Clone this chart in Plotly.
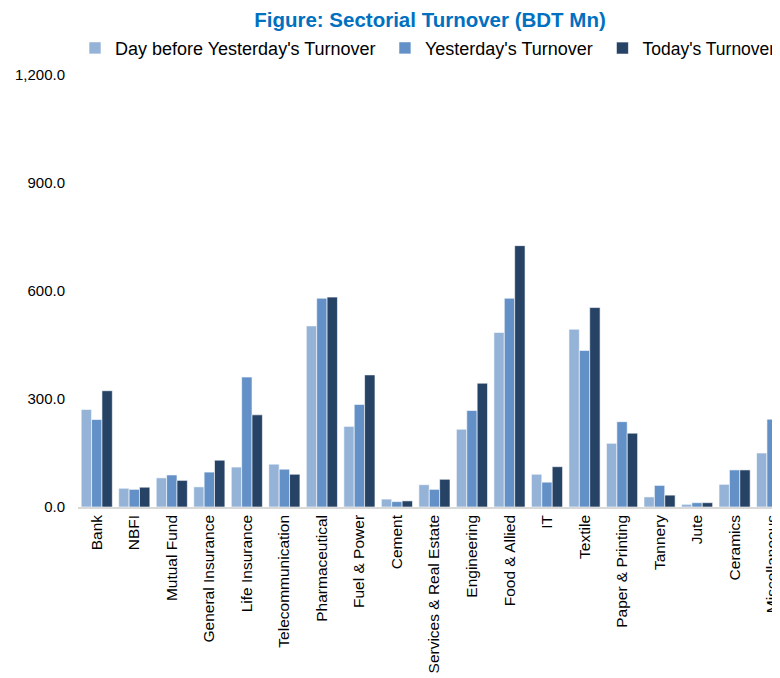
import plotly.graph_objects as go

categories = ["Bank", "NBFI", "Mutual Fund", "General Insurance", "Life Insurance",
              "Telecommunication", "Pharmaceutical", "Fuel & Power", "Cement",
              "Services & Real Estate", "Engineering", "Food & Allied", "IT", "Textile",
              "Paper & Printing", "Tannery", "Jute", "Ceramics", "Miscellaneous"]
day_before = [271, 52, 81, 56, 111, 119, 503, 224, 22, 62, 216, 485, 91, 494, 177, 28, 7.5, 63, 150]
yesterday = [243, 49, 89, 97, 361, 105, 580, 285, 15, 49, 268, 580, 69, 435, 237, 60, 12, 103, 244]
today = [323, 55, 74, 130, 256, 91, 583, 367, 17, 77, 344, 726, 112, 554, 205, 33, 12, 103, 257]

series_names = ["Day before Yesterday's Turnover", "Yesterday's Turnover", "Today's Turnover"]
colors = ["#95B3D7", "#6391C7", "#264366"]
legend_ids = ["legend", "legend2", "legend3"]
legend_x = [0.0868, 0.4883, 0.7700]
legend_font = [18, 18, 17.5]
y_ticks = [0, 300, 600, 900, 1200]

fig = go.Figure()
for name, vals, col, lid in zip(series_names, [day_before, yesterday, today], colors, legend_ids):
    fig.add_trace(go.Bar(x=categories, y=vals, name=name, legend=lid,
                         marker=dict(color=col, line=dict(color="white", width=0.6))))

legend_style = dict(orientation="h", xref="container", yref="container", xanchor="left",
                    y=0.940, yanchor="middle", itemwidth=30,
                    bgcolor="rgba(0,0,0,0)", borderwidth=0)

n = len(categories)
fig.update_layout(
    width=772, height=670,
    paper_bgcolor="white", plot_bgcolor="white",
    font=dict(family="Liberation Sans, Arial, sans-serif", color="black", size=15),
    title=dict(text="<b>Figure: Sectorial Turnover (BDT Mn)</b>", x=0.5466, xanchor="center",
               xref="container", yref="container", y=0.9828, yanchor="middle",
               font=dict(size=20.5, color="#0070C0", family="Liberation Sans, Arial, sans-serif")),
    barmode="group", bargap=0.17, bargroupgap=0,
    margin=dict(l=70, r=0, t=67, b=171, autoexpand=False),
    legend=dict(x=legend_x[0], font=dict(size=legend_font[0]), **legend_style),
    legend2=dict(x=legend_x[1], font=dict(size=legend_font[1]), **legend_style),
    legend3=dict(x=legend_x[2], font=dict(size=legend_font[2]), **legend_style),
    showlegend=True,
)
fig.update_xaxes(tickangle=-90, showgrid=False, showline=True, linecolor="#D9D9D9",
                 linewidth=1.5, ticks="", range=[-0.5, n - 0.79],
                 tickfont=dict(size=15.5))
fig.update_yaxes(range=[0, 1200], tickvals=y_ticks, tickformat=",.1f", showgrid=False,
                 showline=False, zeroline=False, ticks="", tickfont=dict(size=15),
                 ticklabelstandoff=12)

fig.write_html("out.html")
